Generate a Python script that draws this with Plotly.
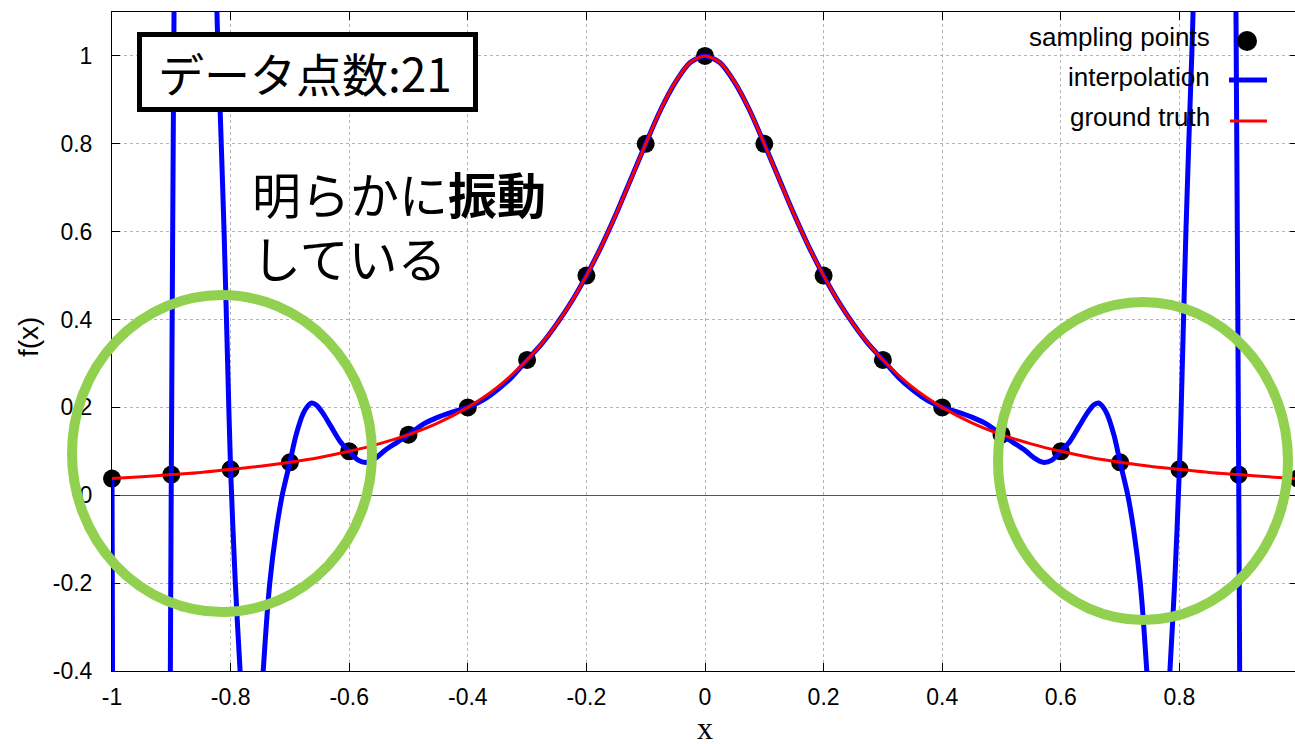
import plotly.graph_objects as go

# --- data ---------------------------------------------------------------
sample_x = [-1.0, -0.9, -0.8, -0.7, -0.6, -0.5, -0.4, -0.3, -0.2, -0.1, 0.0,
            0.1, 0.2, 0.3, 0.4, 0.5, 0.6, 0.7, 0.8, 0.9, 1.0]
sample_y = [0.038, 0.047, 0.059, 0.075, 0.1, 0.138, 0.2, 0.308, 0.5, 0.8, 1.0,
            0.8, 0.5, 0.308, 0.2, 0.138, 0.1, 0.075, 0.059, 0.047, 0.038]

interp_x = [-1, -0.999, -0.995, -0.99, -0.975, -0.96, -0.945, -0.93, -0.915, -0.907,
            -0.903, -0.9, -0.897, -0.893, -0.885, -0.87, -0.855, -0.84, -0.83, -0.823,
            -0.817, -0.811, -0.805, -0.8, -0.792, -0.784, -0.775, -0.765, -0.755, -0.745,
            -0.734, -0.723, -0.713, -0.7, -0.69, -0.678, -0.67, -0.663, -0.655, -0.645,
            -0.63, -0.615, -0.6, -0.585, -0.57, -0.555, -0.54, -0.52, -0.5, -0.475,
            -0.45, -0.425, -0.4, -0.375, -0.35, -0.325, -0.3, -0.275, -0.25, -0.225,
            -0.2, -0.175, -0.15, -0.125, -0.1, -0.075, -0.05, -0.025, 0,
            0.025, 0.05, 0.075, 0.1, 0.125, 0.15, 0.175, 0.2,
            0.225, 0.25, 0.275, 0.3, 0.325, 0.35, 0.375, 0.4, 0.425, 0.45,
            0.475, 0.5, 0.52, 0.54, 0.555, 0.57, 0.585, 0.6, 0.615, 0.63,
            0.645, 0.655, 0.663, 0.67, 0.678, 0.69, 0.7, 0.713, 0.723, 0.734,
            0.745, 0.755, 0.765, 0.775, 0.784, 0.792, 0.8, 0.805, 0.811, 0.817,
            0.823, 0.83, 0.84, 0.855, 0.87, 0.885, 0.893, 0.897, 0.9, 0.903,
            0.907, 0.915, 0.93, 0.945, 0.96, 0.975, 0.99, 0.995, 0.999, 1]
interp_y = [0.038, -0.45, -2.5, -6, -25, -40, -35, -20, -7, -2,
            -0.8, 0.047, 0.75, 1.6, 3, 4.5, 4.5, 3.2, 1.8, 1.1,
            0.85, 0.6, 0.3, 0.059, -0.2, -0.4, -0.62, -0.75, -0.65, -0.4,
            -0.2, -0.08, 0.0, 0.075, 0.135, 0.185, 0.203, 0.21, 0.205, 0.188,
            0.155, 0.122, 0.1, 0.08, 0.075, 0.085, 0.102, 0.12, 0.138, 0.162,
            0.178, 0.19, 0.2, 0.216, 0.24, 0.27, 0.308, 0.345, 0.39, 0.441,
            0.5, 0.566, 0.64, 0.72, 0.8, 0.877, 0.94, 0.985, 1.0,
            0.985, 0.94, 0.877, 0.8, 0.72, 0.64, 0.566, 0.5,
            0.441, 0.39, 0.345, 0.308, 0.27, 0.24, 0.216, 0.2, 0.19, 0.178,
            0.162, 0.138, 0.12, 0.102, 0.085, 0.075, 0.08, 0.1, 0.122, 0.155,
            0.188, 0.205, 0.21, 0.203, 0.185, 0.135, 0.075, 0.0, -0.08, -0.2,
            -0.4, -0.65, -0.75, -0.62, -0.4, -0.2, 0.059, 0.3, 0.6, 0.85,
            1.1, 1.8, 3.2, 4.5, 4.5, 3, 1.6, 0.75, 0.047, -0.8,
            -2, -7, -20, -35, -40, -25, -6, -2.5, -0.45, 0.038]

truth_x = [-1.0, -0.95, -0.9, -0.85, -0.8, -0.75, -0.7, -0.65, -0.6, -0.55,
           -0.5, -0.45, -0.4, -0.35, -0.3, -0.275, -0.25, -0.225, -0.2, -0.175,
           -0.15, -0.125, -0.1, -0.075, -0.05, -0.025, 0.0,
           0.025, 0.05, 0.075, 0.1, 0.125, 0.15, 0.175, 0.2, 0.225, 0.25,
           0.275, 0.3, 0.35, 0.4, 0.45, 0.5, 0.55, 0.6, 0.65, 0.7,
           0.75, 0.8, 0.85, 0.9, 0.95, 1.0]
truth_y = [0.038, 0.042, 0.047, 0.052, 0.059, 0.066, 0.075, 0.086, 0.1, 0.117,
           0.138, 0.165, 0.2, 0.246, 0.308, 0.346, 0.39, 0.441, 0.5, 0.566,
           0.64, 0.719, 0.8, 0.877, 0.941, 0.985, 1.0,
           0.985, 0.941, 0.877, 0.8, 0.719, 0.64, 0.566, 0.5, 0.441, 0.39,
           0.346, 0.308, 0.246, 0.2, 0.165, 0.138, 0.117, 0.1, 0.086, 0.075,
           0.066, 0.059, 0.052, 0.047, 0.042, 0.038]

x_tick_vals = [-1, -0.8, -0.6, -0.4, -0.2, 0, 0.2, 0.4, 0.6, 0.8, 1]
x_tick_text = ["-1", "-0.8", "-0.6", "-0.4", "-0.2", "0", "0.2", "0.4", "0.6", "0.8", "1"]
y_tick_vals = [-0.4, -0.2, 0, 0.2, 0.4, 0.6, 0.8, 1]
y_tick_text = ["-0.4", "-0.2", "0", "0.2", "0.4", "0.6", "0.8", "1"]

legend_labels = ["sampling points", "interpolation", "ground truth"]

# --- figure -------------------------------------------------------------
W, H = 1300, 744
L, R, T, B = 112, 2, 12, 73
PW, PH = W - L - R, H - T - B


def px(x):
    return (x - L) / PW


def py(y):
    return (H - B - y) / PH


SANS = "Liberation Sans, Arial, sans-serif"
CJK = "Noto Sans CJK JP"
GREEN = "#92D050"

fig = go.Figure()
fig.add_trace(go.Scatter(x=sample_x, y=sample_y, mode="markers", name=legend_labels[0],
                         marker=dict(size=18, color="black"), cliponaxis=False,
                         showlegend=False))
fig.add_trace(go.Scatter(x=interp_x, y=interp_y, mode="lines", name=legend_labels[1],
                         line=dict(color="#0000ff", width=5, shape="spline", smoothing=0.8),
                         showlegend=False))
fig.add_trace(go.Scatter(x=truth_x, y=truth_y, mode="lines", name=legend_labels[2],
                         line=dict(color="#ff0000", width=3, shape="spline", smoothing=0.8),
                         showlegend=False))

axis_common = dict(
    ticks="inside", ticklen=8, tickcolor="black", tickwidth=1,
    showline=True, linecolor="black", linewidth=1, mirror="ticks",
    showgrid=True, gridcolor="#b4b4b4", griddash="dot", gridwidth=1,
    tickfont=dict(family=SANS, size=23, color="black"),
)
fig.update_xaxes(range=[-1, 1], tickvals=x_tick_vals, ticktext=x_tick_text,
                 zeroline=False, ticklabelstandoff=5, **axis_common)
fig.update_yaxes(range=[-0.4, 1.1], tickvals=y_tick_vals, ticktext=y_tick_text,
                 zeroline=True, zerolinecolor="#555555", zerolinewidth=1,
                 ticklabelstandoff=14, **axis_common)

shapes = [
    # highlight rings
    dict(type="circle", xref="paper", yref="paper", layer="above",
         x0=px(72), x1=px(372), y0=py(612), y1=py(295),
         line=dict(color=GREEN, width=10)),
    dict(type="circle", xref="paper", yref="paper", layer="above",
         x0=px(998), x1=px(1288), y0=py(620), y1=py(302),
         line=dict(color=GREEN, width=10)),
    # title box
    dict(type="rect", xref="paper", yref="paper", layer="above",
         x0=px(139.5), x1=px(475.5), y0=py(109.5), y1=py(34.5),
         fillcolor="white", line=dict(color="black", width=5)),
    # legend keys
    dict(type="circle", xref="paper", yref="paper", layer="above",
         x0=px(1237), x1=px(1257), y0=py(51), y1=py(31),
         fillcolor="black", line=dict(color="black", width=0)),
    dict(type="line", xref="paper", yref="paper", layer="above",
         x0=px(1229), x1=px(1267), y0=py(80), y1=py(80),
         line=dict(color="#0000ff", width=5)),
    dict(type="line", xref="paper", yref="paper", layer="above",
         x0=px(1230), x1=px(1267), y0=py(121), y1=py(121),
         line=dict(color="#ff0000", width=3)),
]

annotations = [
    dict(text="データ点数:21", x=px(305), y=py(72), xref="paper", yref="paper",
         xanchor="center", yanchor="middle", showarrow=False,
         font=dict(family=CJK, size=46, color="black")),
    dict(text="明らかに<b>振動</b><br>している", x=px(250), y=py(225),
         xref="paper", yref="paper", xanchor="left", yanchor="middle",
         align="left", showarrow=False,
         font=dict(family=CJK, size=49, color="black")),
    dict(text="x", x=px(705), y=py(728), xref="paper", yref="paper",
         xanchor="center", yanchor="middle", showarrow=False,
         font=dict(family="Liberation Serif, Times New Roman, serif", size=32, color="black")),
    dict(text="f(x)", x=px(28), y=py(337), xref="paper", yref="paper",
         xanchor="center", yanchor="middle", showarrow=False, textangle=-90,
         font=dict(family=SANS, size=28, color="black")),
]
for label, ycen in zip(legend_labels, [37, 77, 117]):
    annotations.append(dict(text=label, x=px(1212), y=py(ycen), xref="paper", yref="paper",
                            xanchor="right", yanchor="middle", showarrow=False,
                            font=dict(family=SANS, size=26, color="black")))

fig.update_layout(
    width=W, height=H, margin=dict(l=L, r=R, t=T, b=B, pad=0),
    paper_bgcolor="white", plot_bgcolor="white",
    showlegend=False, shapes=shapes, annotations=annotations,
)

fig.write_html(
    "out.html",
    config={"displayModeBar": False},
    post_script="document.body.style.margin='0';document.body.style.overflow='hidden';"
                "document.documentElement.style.overflow='hidden';",
)
